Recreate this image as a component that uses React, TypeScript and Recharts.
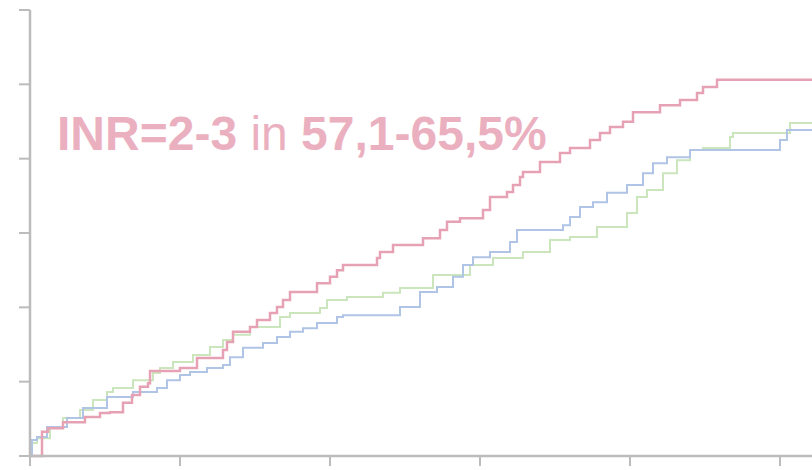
import React from "react";
import { LineChart, Line, XAxis, YAxis } from "recharts";

// x = months, y = cumulative %
const redX = [0, 0.48, 0.72, 1.32, 2.2, 2.8, 3.2, 3.72, 4.08, 4.4, 4.72, 4.8, 6.0, 6.68, 7.72, 7.88, 8.12, 8.8, 9.08, 9.6, 9.88, 10.12, 10.4, 11.48, 12.0, 12.28, 12.52, 13.88, 14.0, 14.52, 15.72, 16.4, 16.68, 17.2, 18.12, 18.4, 19.08, 19.32, 19.6, 19.72, 20.4, 21.2, 21.6, 22.4, 22.8, 23.2, 23.72, 24.12, 25.2, 26.0, 26.68, 26.92, 27.48, 31.28];
const redY = [0, 0.65, 0.75, 0.91, 1.05, 1.16, 1.18, 1.43, 1.64, 1.86, 1.96, 2.29, 2.37, 2.64, 2.85, 3.07, 3.34, 3.47, 3.66, 3.85, 4.01, 4.2, 4.41, 4.65, 4.82, 5.0, 5.14, 5.33, 5.49, 5.68, 5.86, 6.08, 6.3, 6.4, 6.62, 6.97, 7.1, 7.29, 7.51, 7.64, 7.91, 8.15, 8.29, 8.5, 8.69, 8.85, 8.99, 9.25, 9.44, 9.58, 9.77, 9.93, 10.12, 10.12];

const blueX = [0, 0.08, 0.28, 0.68, 1.48, 2.12, 3.08, 4.12, 5.08, 5.48, 6.0, 6.4, 7.08, 7.72, 8.0, 8.52, 9.32, 9.88, 10.4, 10.92, 11.48, 12.28, 12.52, 14.8, 15.6, 16.28, 16.92, 17.32, 17.72, 18.4, 19.2, 19.48, 21.32, 21.6, 22.0, 22.52, 23.08, 23.88, 24.52, 24.92, 25.48, 26.4, 30.0, 30.28, 31.28];
const blueY = [0, 0.43, 0.51, 0.78, 1.02, 1.29, 1.59, 1.72, 1.83, 2.04, 2.18, 2.26, 2.37, 2.45, 2.66, 2.91, 3.04, 3.2, 3.34, 3.44, 3.58, 3.74, 3.79, 4.01, 4.41, 4.55, 4.82, 5.14, 5.35, 5.49, 5.76, 6.08, 6.21, 6.43, 6.7, 6.83, 7.08, 7.29, 7.61, 7.88, 8.04, 8.23, 8.5, 8.77, 8.77];

const greenX = [0, 0.04, 0.28, 0.8, 1.32, 2.0, 2.52, 3.08, 3.32, 4.12, 4.92, 5.2, 5.72, 6.52, 7.2, 7.72, 8.12, 8.8, 10.0, 10.4, 11.6, 11.88, 12.68, 14.12, 14.8, 16.12, 17.6, 18.52, 19.72, 20.8, 21.6, 22.68, 23.88, 24.28, 24.68, 25.32, 25.88, 26.4, 26.92, 28.0, 28.12, 30.4, 31.28];
const greenY = [0, 0.35, 0.48, 0.78, 1.02, 1.24, 1.51, 1.72, 1.83, 2.04, 2.23, 2.37, 2.53, 2.72, 2.93, 3.12, 3.26, 3.47, 3.74, 3.85, 3.98, 4.2, 4.28, 4.39, 4.52, 4.87, 5.14, 5.33, 5.49, 5.81, 5.89, 6.16, 6.54, 6.97, 7.16, 7.61, 7.96, 8.23, 8.29, 8.58, 8.69, 8.96, 8.96];

const xTicks = [0, 6, 12, 18, 24, 30];
const yTicks = [0, 2, 4, 6, 8, 10, 12];

const build = (xs: number[], ys: number[]) => xs.map((x, i) => ({ x, y: ys[i] }));
const redData = build(redX, redY);
const blueData = build(blueX, blueY);
const greenData = build(greenX, greenY);

const axisColor = "#bcbcbc";
const emptyTick = () => <g />;

export default function App() {
  return (
    <div style={{ position: "absolute", left: 0, top: 0, width: 812, height: 470, background: "#fff" }}>
      <LineChart width={812} height={470} margin={{ top: 10, right: 0, bottom: 0, left: 0 }}>
        <XAxis
          dataKey="x"
          type="number"
          domain={[0, 31.28]}
          ticks={xTicks}
          allowDataOverflow
          height={14}
          tick={emptyTick}
          tickSize={10}
          axisLine={{ stroke: axisColor, strokeWidth: 2.5 }}
          tickLine={{ stroke: axisColor, strokeWidth: 2 }}
        />
        <YAxis
          type="number"
          domain={[0, 12]}
          ticks={yTicks}
          width={30}
          tick={emptyTick}
          tickSize={11}
          axisLine={{ stroke: axisColor, strokeWidth: 2.5 }}
          tickLine={{ stroke: axisColor, strokeWidth: 2 }}
        />
        <Line data={greenData} dataKey="y" type="stepAfter" stroke="#cbe5bd" strokeWidth={2} dot={false} isAnimationActive={false} />
        <Line data={blueData} dataKey="y" type="stepAfter" stroke="#b0c4e5" strokeWidth={2} dot={false} isAnimationActive={false} />
        <Line data={redData} dataKey="y" type="stepAfter" stroke="#e6a2b4" strokeWidth={2.5} dot={false} isAnimationActive={false} />
      </LineChart>
      <svg width={812} height={470} style={{ position: "absolute", left: 0, top: 0, pointerEvents: "none" }}>
        <text x={57} y={150} fontFamily="'Liberation Sans', Arial, sans-serif" fontSize={48} fill="#ebb0c0">
          <tspan fontWeight="bold">INR=2-3</tspan>
          <tspan> in </tspan>
          <tspan fontWeight="bold">57,1-65,5%</tspan>
        </text>
      </svg>
    </div>
  );
}
